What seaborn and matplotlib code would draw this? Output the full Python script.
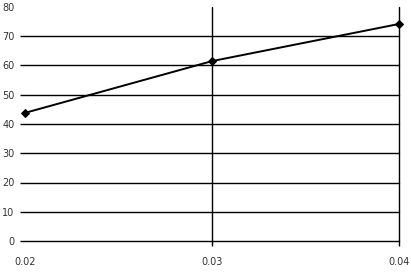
import pandas as pd
import matplotlib
matplotlib.use('Agg')
import matplotlib.pyplot as plt
import seaborn as sns

# values
x_vals = [0.02, 0.03, 0.04]
y_vals = [43.8, 61.5, 74.2]
x_ticks = [0.02, 0.03, 0.04]
y_ticks = [0, 10, 20, 30, 40, 50, 60, 70, 80]

df = pd.DataFrame({'x': x_vals, 'y': y_vals})

sns.set_style("white")
plt.rcParams['font.family'] = ['DejaVu Sans']

fig = plt.figure(figsize=(4.11, 2.72), dpi=100)
ax = fig.add_axes([25 / 411, 31 / 272, 374 / 411, 234 / 272])

sns.lineplot(data=df, x='x', y='y', color='black', linewidth=1.4,
             marker='D', markersize=4.5, markeredgecolor='black', ax=ax,
             clip_on=False, zorder=5)

ax.set_xlim(0.02, 0.04)
ax.set_ylim(0, 80)
ax.set_xticks(x_ticks)
ax.set_xticklabels([f'{t:.2f}' for t in x_ticks])
ax.set_yticks(y_ticks)
ax.set_yticklabels([str(t) for t in y_ticks])

for s in ax.spines.values():
    s.set_visible(False)

ax.tick_params(axis='both', direction='out', length=3.5, width=1.0,
               color='black', labelsize=7, labelcolor='#333333',
               bottom=True, left=True)
ax.tick_params(axis='x', pad=8)
ax.tick_params(axis='y', pad=4)

ax.grid(True, color='black', linewidth=1.0)
ax.set_axisbelow(True)
for gl in ax.xaxis.get_gridlines() + ax.yaxis.get_gridlines():
    gl.set_clip_on(False)
# no gridline / tick on the left edge or along the top edge
ax.xaxis.get_gridlines()[0].set_visible(False)
ax.yaxis.get_gridlines()[-1].set_visible(False)
ax.xaxis.get_major_ticks()[0].tick1line.set_visible(False)
ax.yaxis.get_major_ticks()[-1].tick1line.set_visible(False)

ax.set_xlabel('')
ax.set_ylabel('')

plt.savefig('out.png', dpi=100)
